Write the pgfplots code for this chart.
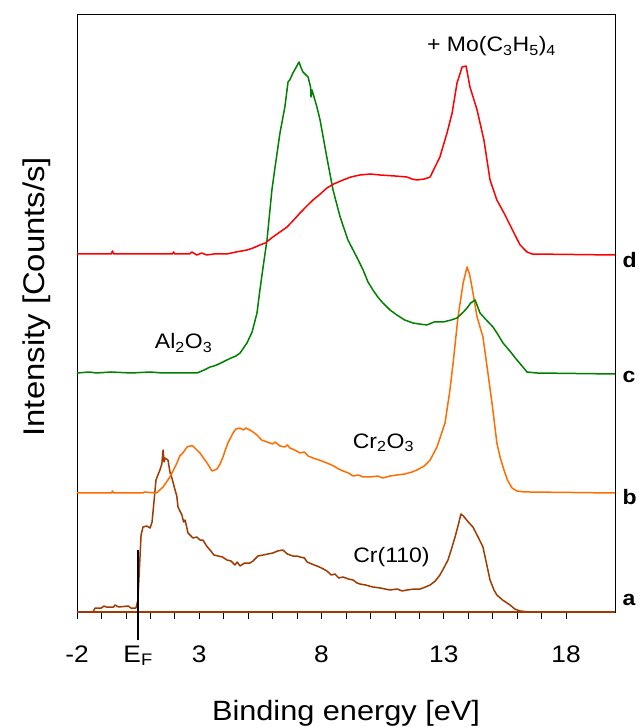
\documentclass[border=0pt]{standalone}
\usepackage{pgfplots}
\pgfplotsset{compat=1.18}
\usepackage{fontspec}
\setmainfont{Liberation Sans}[FakeStretch=1.1]
\definecolor{cA}{RGB}{160,58,0}
\definecolor{cB}{RGB}{255,108,0}
\definecolor{cC}{RGB}{0,128,0}
\definecolor{cD}{RGB}{255,0,0}
\begin{document}
\begin{tikzpicture}
\useasboundingbox (-77bp,-115bp) rectangle (562bp,612bp);
\begin{axis}[
 at={(0,0)}, anchor=south west,
 scale only axis, width=538bp, height=598bp,
 xmin=-2, xmax=20, ymin=0, ymax=598,
 xtick={-2,3,8,13,18}, xticklabels={-2,3,8,13,18},
 minor x tick num=4,
 ytick=\empty,
 tick align=outside, xtick pos=bottom,
 major tick length=7bp, minor tick length=7bp,
 tick style={black, line width=0.8bp},
 axis line style={black, line width=0.9bp},
 xticklabel style={font=\fontsize{24}{28}\selectfont, anchor=base, yshift=-43bp},
 xlabel={Binding energy [eV]}, ylabel={Intensity [Counts/s]},
 xlabel style={font=\fontsize{28}{32}\selectfont, at={(axis description cs:0.5,-0.1806)}, anchor=base},
 ylabel style={font=\fontsize{30}{34}\selectfont, at={(axis description cs:-0.0595,0.2876)}, anchor=base west},
 clip=false,
 every axis plot/.append style={line width=1.5bp, no markers, line join=round},
]
% a: Cr(110)
\addplot[cA] coordinates {(-2,0) (20,0)};
\addplot[cA] coordinates {
(-2.0,0) (-1.35,0) (-1.26,4) (-1.0,4) (-0.9,6) (-0.8,5) (-0.5,5) (-0.45,7) (-0.3,5) (0.1,6) (0.2,4) (0.41,4) (0.49,12) (0.62,77) (0.70,85) (0.85,86) (0.99,84) (1.07,90)
(1.23,132) (1.39,142) (1.47,148) (1.52,162) (1.56,150) (1.60,154) (1.72,152) (1.80,140) (1.88,134) (2.01,122) (2.08,116) (2.13,105)
(2.29,97) (2.36,90) (2.42,92) (2.54,79) (2.74,74) (2.9,75) (3.03,72) (3.15,72) (3.3,66) (3.44,62) (3.6,57) (3.77,56) (3.95,55) (4.13,52)
(4.3,51) (4.46,47) (4.55,50) (4.67,46) (4.85,49) (5.07,49) (5.20,51) (5.4,56) (5.61,57) (5.8,58) (6.01,59) (6.2,61) (6.42,62) (6.6,58) (6.83,56) (7.0,56) (7.12,55)
(7.3,54) (7.41,50) (7.6,48) (7.81,46) (8.0,44) (8.22,41) (8.4,37) (8.55,38) (8.7,34) (8.88,35) (9.1,33) (9.29,32) (9.45,29) (9.57,28) (9.8,27) (10.10,25) (10.4,24) (10.80,22)
(11.1,23) (11.3,21) (11.49,22) (11.8,23) (12.03,23) (12.25,25) (12.44,27) (12.65,31) (12.84,37) (13.0,44) (13.17,52) (13.3,62) (13.46,75) (13.6,88) (13.70,98) (13.80,96)
(14.0,90) (14.19,85) (14.4,75) (14.60,65) (14.75,48) (14.89,32) (15.05,22) (15.17,17) (15.4,12) (15.71,7) (15.9,3) (16.12,1) (16.52,0) (20,0)};
% b: Cr2O3
\addplot[cB] coordinates {
(-2,119) (-0.6,119) (-0.55,121) (-0.5,119) (0.7,119) (0.75,120) (1.25,119) (1.52,125) (1.80,135) (2.09,149) (2.2,156) (2.33,159) (2.5,165) (2.62,166) (2.74,166) (2.9,162) (3.03,159)
(3.2,153) (3.32,149) (3.52,141) (3.73,143) (3.85,148) (3.97,155) (4.08,163) (4.17,169) (4.38,179) (4.5,183) (4.67,184) (4.8,182) (4.9,184) (5.07,182)
(5.2,180) (5.36,177) (5.55,172) (5.77,170) (6.0,168) (6.1,170) (6.30,166) (6.5,165) (6.6,167) (6.71,164) (6.9,162) (7.12,159) (7.3,160) (7.45,156) (7.65,154) (7.9,152) (8.22,149) (8.5,146) (8.7,143) (8.88,141)
(9.1,139) (9.29,136) (9.5,137) (9.7,135) (9.98,135) (10.3,136) (10.5,134) (10.8,136) (11.08,137) (11.4,138) (11.7,140) (11.90,142) (12.2,146) (12.44,152) (12.72,165) (13.05,189) (13.25,222)
(13.38,249) (13.58,295) (13.79,329) (13.95,345) (14.05,338) (14.15,325) (14.36,295) (14.60,275) (14.77,245)
(14.97,209) (15.17,169) (15.3,155) (15.42,145) (15.6,132) (15.79,124) (15.99,121) (16.3,120) (16.52,120) (20,119)};
% c: Al2O3
\addplot[cC] coordinates {
(-2,239) (-1.5,240) (-1.2,239) (-0.6,240) (0.2,239) (1.0,240) (1.5,239) (2.91,239) (3.2,242) (3.44,245) (3.6,246) (3.8,248) (4.13,252) (4.3,254) (4.5,256) (4.67,259) (4.95,269) (5.16,280) (5.36,299) (5.48,322)
(5.61,345) (5.77,372) (5.97,422) (6.1,445) (6.30,479) (6.50,505) (6.63,530) (6.7,532) (6.83,539) (7.08,550) (7.15,545)
(7.24,540) (7.45,535) (7.55,525) (7.57,515) (7.61,522) (7.81,505) (7.94,492) (8.14,465) (8.26,449) (8.47,422)
(8.76,395) (9.08,372) (9.29,362) (9.5,352) (9.70,342) (9.9,330) (10.10,322) (10.3,315) (10.51,309) (10.8,302) (11.08,297) (11.4,292) (11.74,289)
(12.0,288) (12.31,287) (12.6,290) (12.97,290) (13.3,292) (13.54,294) (13.8,300) (13.95,304) (14.1,309) (14.28,312) (14.48,299) (14.7,293) (15.01,285) (15.2,278) (15.42,269)
(15.7,261) (15.99,252) (16.2,246) (16.40,240) (16.81,239) (20,238)};
% d: + Mo(C3H5)4
\addplot[cD] coordinates {
(-2,358) (-0.6,358) (-0.55,361) (-0.5,358) (1.9,358) (1.95,360) (2.0,358) (2.6,358) (2.7,360) (2.9,357) (3.1,359) (3.3,357) (3.6,358) (4.13,358) (4.5,360) (4.95,362) (5.2,364) (5.48,367) (5.7,369) (6.01,375) (6.3,380) (6.59,385) (6.9,393) (7.12,399) (7.4,406) (7.65,412) (7.9,417) (8.22,424)
(8.5,428) (8.88,432) (9.2,435) (9.57,437) (10.0,438) (10.39,437) (11.0,436) (11.49,435) (11.70,433) (11.90,432) (12.2,433) (12.44,435) (12.64,445) (12.84,455)
(13.13,479) (13.34,499) (13.54,529) (13.75,545) (13.91,546) (14.07,525) (14.36,502) (14.64,472)
(14.89,432) (15.17,412) (15.46,399) (15.87,379) (16.12,367) (16.4,360) (16.61,358) (20,357)};
% Fermi level
\addplot[black, line width=1.5bp] coordinates {(0.5,-28) (0.5,62)};
\node[font=\fontsize{24}{28}\selectfont, anchor=base] at (axis cs:0.5,-50) {E\textsubscript{F}};
\node[font=\fontsize{21}{24}\selectfont, anchor=base] at (axis cs:14.95,560) {+ Mo(C\textsubscript{3}H\textsubscript{5})\textsubscript{4}};
\node[font=\fontsize{21}{24}\selectfont] at (axis cs:2.36,269) {Al\textsubscript{2}O\textsubscript{3}};
\node[font=\fontsize{21}{24}\selectfont] at (axis cs:10.53,169) {Cr\textsubscript{2}O\textsubscript{3}};
\node[font=\fontsize{21}{24}\selectfont] at (axis cs:10.86,55) {Cr(110)};
\node[anchor=west, font=\bfseries\fontsize{21}{24}\selectfont, xshift=4bp] at (axis cs:20,12) {a};
\node[anchor=west, font=\bfseries\fontsize{21}{24}\selectfont, xshift=4bp] at (axis cs:20,115) {b};
\node[anchor=west, font=\bfseries\fontsize{21}{24}\selectfont, xshift=4bp] at (axis cs:20,235) {c};
\node[anchor=west, font=\bfseries\fontsize{21}{24}\selectfont, xshift=4bp] at (axis cs:20,352) {d};
\end{axis}
\end{tikzpicture}
\end{document}
